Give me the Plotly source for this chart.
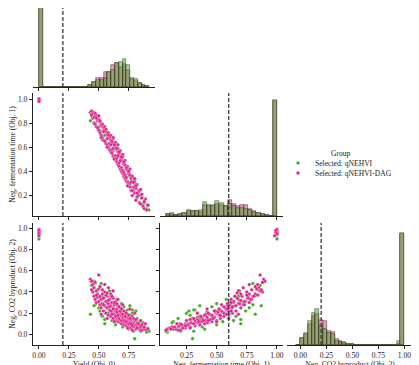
import numpy as np
import plotly.graph_objects as go

# Colours for the two selection groups
GREEN = (76, 168, 40)
PINK = (220, 40, 140)
FONT = "Liberation Serif, DejaVu Serif, serif"
INK = "#222222"

group_names = ["Selected: qNEHVI", "Selected: qNEHVI-DAG"]

# Scatter data: selected points, group qNEHVI-DAG (pink)
pink_yield = [
    0.43, 0.44, 0.45, 0.45, 0.46, 0.46, 0.47, 0.47, 0.48, 0.48,
    0.49, 0.49, 0.50, 0.50, 0.51, 0.51, 0.50, 0.52, 0.52, 0.53,
    0.53, 0.54, 0.54, 0.55, 0.55, 0.56, 0.56, 0.57, 0.57, 0.58,
    0.58, 0.59, 0.59, 0.60, 0.60, 0.60, 0.61, 0.61, 0.62, 0.62,
    0.62, 0.63, 0.63, 0.64, 0.64, 0.64, 0.65, 0.65, 0.66, 0.66,
    0.66, 0.67, 0.67, 0.68, 0.68, 0.68, 0.69, 0.69, 0.70, 0.70,
    0.70, 0.71, 0.71, 0.72, 0.72, 0.72, 0.73, 0.73, 0.74, 0.74,
    0.74, 0.75, 0.75, 0.76, 0.76, 0.77, 0.77, 0.78, 0.78, 0.79,
    0.79, 0.80, 0.80, 0.81, 0.81, 0.82, 0.82, 0.83, 0.84, 0.84,
    0.85, 0.86, 0.87, 0.88, 0.90, 0.91, 0.58, 0.62, 0.55, 0.66,
    0.70, 0.76, 0.80, 0.85, 0.89, 0.63, 0.57, 0.52, 0.74, 0.78,
    0.0, 0.0, 0.0, 0.0, 0.0, 0.0, 0.0,
    0.53, 0.56, 0.58, 0.59, 0.61, 0.61, 0.63, 0.64, 0.65, 0.65,
    0.67, 0.67, 0.68, 0.69, 0.69, 0.70, 0.71, 0.71, 0.72, 0.73,
    0.73, 0.75, 0.75, 0.76, 0.77, 0.78, 0.79, 0.81, 0.83, 0.86,
    0.60, 0.62, 0.66, 0.54, 0.48, 0.44, 0.51, 0.57, 0.88, 0.82,
]
pink_ferm = [
    0.89, 0.90, 0.84, 0.88, 0.85, 0.80, 0.88, 0.79, 0.86, 0.77,
    0.82, 0.76, 0.83, 0.74, 0.81, 0.72, 0.86, 0.78, 0.70, 0.77,
    0.68, 0.76, 0.66, 0.75, 0.65, 0.73, 0.63, 0.71, 0.62, 0.69,
    0.60, 0.68, 0.58, 0.66, 0.56, 0.70, 0.64, 0.55, 0.63, 0.53,
    0.67, 0.61, 0.52, 0.60, 0.50, 0.64, 0.58, 0.48, 0.56, 0.46,
    0.59, 0.54, 0.44, 0.52, 0.42, 0.57, 0.50, 0.40, 0.48, 0.38,
    0.52, 0.46, 0.36, 0.45, 0.34, 0.49, 0.42, 0.32, 0.41, 0.31,
    0.44, 0.38, 0.28, 0.37, 0.27, 0.34, 0.24, 0.32, 0.36, 0.24,
    0.27, 0.22, 0.32, 0.26, 0.16, 0.19, 0.29, 0.22, 0.24, 0.14,
    0.13, 0.18, 0.11, 0.09, 0.08, 0.12, 0.72, 0.68, 0.77, 0.62,
    0.54, 0.42, 0.34, 0.25, 0.17, 0.50, 0.60, 0.68, 0.28, 0.20,
    1.00, 1.00, 0.99, 1.00, 0.99, 1.00, 0.98,
    0.79, 0.75, 0.70, 0.63, 0.65, 0.58, 0.62, 0.53, 0.59, 0.51,
    0.56, 0.47, 0.49, 0.43, 0.52, 0.41, 0.48, 0.39, 0.37, 0.43,
    0.35, 0.40, 0.31, 0.30, 0.31, 0.24, 0.31, 0.28, 0.20, 0.21,
    0.62, 0.59, 0.53, 0.73, 0.84, 0.87, 0.82, 0.67, 0.15, 0.22,
]
pink_co2 = [
    0.52, 0.50, 0.47, 0.40, 0.44, 0.36, 0.49, 0.33, 0.41, 0.30,
    0.38, 0.35, 0.43, 0.31, 0.36, 0.28, 0.56, 0.33, 0.25, 0.38,
    0.29, 0.34, 0.22, 0.40, 0.27, 0.31, 0.20, 0.36, 0.25, 0.29,
    0.18, 0.33, 0.23, 0.27, 0.17, 0.38, 0.30, 0.21, 0.25, 0.15,
    0.34, 0.28, 0.19, 0.22, 0.13, 0.31, 0.24, 0.16, 0.20, 0.12,
    0.27, 0.22, 0.14, 0.18, 0.11, 0.25, 0.20, 0.10, 0.16, 0.12,
    0.23, 0.18, 0.09, 0.14, 0.11, 0.21, 0.16, 0.08, 0.13, 0.10,
    0.19, 0.15, 0.07, 0.12, 0.09, 0.14, 0.06, 0.11, 0.17, 0.08,
    0.10, 0.07, 0.13, 0.09, 0.05, 0.08, 0.11, 0.06, 0.09, 0.05,
    0.07, 0.04, 0.06, 0.05, 0.04, 0.05, 0.44, 0.41, 0.47, 0.33,
    0.28, 0.24, 0.20, 0.13, 0.10, 0.12, 0.15, 0.19, 0.06, 0.04,
    0.99, 0.97, 0.96, 0.94, 0.98, 0.95, 0.93,
    0.42, 0.37, 0.32, 0.26, 0.36, 0.19, 0.30, 0.17, 0.29, 0.21,
    0.26, 0.15, 0.22, 0.13, 0.24, 0.19, 0.22, 0.13, 0.17, 0.20,
    0.12, 0.18, 0.10, 0.15, 0.10, 0.08, 0.15, 0.14, 0.10, 0.09,
    0.22, 0.24, 0.18, 0.28, 0.37, 0.42, 0.45, 0.39, 0.07, 0.06,
]

# Scatter data: selected points, group qNEHVI (green)
green_yield = [
    0.44, 0.46, 0.47, 0.43, 0.49, 0.51, 0.52, 0.54, 0.55, 0.57,
    0.58, 0.60, 0.61, 0.62, 0.63, 0.64, 0.65, 0.66, 0.67, 0.68,
    0.69, 0.70, 0.71, 0.72, 0.73, 0.74, 0.75, 0.76, 0.77, 0.78,
    0.79, 0.80, 0.81, 0.82, 0.83, 0.84, 0.85, 0.86, 0.87, 0.88,
    0.90, 0.91, 0.92, 0.53, 0.59, 0.56, 0.50, 0.62, 0.69, 0.76,
    0.46, 0.78, 0.55, 0.0,
]
green_ferm = [
    0.86, 0.89, 0.80, 0.82, 0.84, 0.74, 0.80, 0.76, 0.70, 0.72,
    0.60, 0.68, 0.64, 0.52, 0.62, 0.50, 0.58, 0.46, 0.55, 0.42,
    0.50, 0.38, 0.46, 0.34, 0.43, 0.32, 0.40, 0.28, 0.36, 0.25,
    0.31, 0.30, 0.27, 0.18, 0.24, 0.14, 0.20, 0.18, 0.13, 0.14,
    0.09, 0.12, 0.08, 0.66, 0.69, 0.64, 0.77, 0.57, 0.40, 0.36,
    0.87, 0.31, 0.70, 1.00,
]
green_co2 = [
    0.46, 0.50, 0.28, 0.19, 0.42, 0.22, 0.48, 0.35, 0.14, 0.30,
    0.20, 0.36, 0.13, 0.24, 0.29, 0.09, 0.33, 0.17, 0.12, 0.21,
    0.29, 0.07, 0.26, 0.16, 0.11, 0.23, 0.05, 0.18, 0.14, 0.20,
    0.03, -0.04, 0.22, 0.15, 0.10, 0.12, 0.03, 0.07, 0.11, 0.05,
    0.02, 0.06, 0.03, 0.17, 0.41, 0.26, 0.25, 0.19, 0.13, 0.27,
    0.27, 0.23, 0.10, 0.90,
]

# Histogram bars (bin start, bin width, counts)
yield_bin_start, yield_bin_width = 0.0, 0.0318
yield_hist_green = [120] + [0] * 12 + [
    2.3, 6, 7.3, 7.7, 10.3, 16, 18.7, 26, 27, 31, 24.7, 10.3, 8.7, 4.7, 2.3, 1.3]
yield_hist_pink = [120] + [0] * 12 + [
    2.3, 6, 9.7, 9.7, 16.3, 16, 24.7, 26, 22, 25.3, 18.7, 8.7, 7, 4.7, 2.3, 1.3]

ferm_bin_start, ferm_bin_width = 0.08, 0.0341
ferm_hist_green = [1.7, 3.3, 1, 2.3, 3.3, 6.3, 5, 5, 5.7, 14, 10.7, 11.3, 14.7, 13.3,
                   9.7, 12.3, 9.7, 8.3, 8.3, 7.3, 5.7, 4, 3, 1.7, 0.7, 0, 116]
ferm_hist_pink = [1.7, 1.7, 0.7, 2.3, 3.3, 5, 5, 5, 4, 10.7, 9.7, 9.7, 12.3, 10.7,
                  9.7, 16.3, 12.3, 9.7, 11.3, 10.7, 7.3, 5, 3.3, 1.7, 0.7, 0, 115]

co2_bin_start, co2_bin_width = -0.04, 0.0371
co2_hist_green = [0.3, 6.7, 11.7, 23.7, 31.7, 36, 19.3, 16, 12, 11, 4.3, 2.7, 2, 1, 0.7] \
    + [0] * 11 + [3.7, 112]
co2_hist_pink = [0, 6.7, 11, 21, 29.3, 31, 25, 24.3, 13.7, 12.7, 6, 3.7, 2.7, 1, 0.7] \
    + [0] * 11 + [1, 111]

# Reference (threshold) values per objective
thresholds = [0.2, 0.6, 0.2]

# The page body keeps an 8px margin, so lay out in window pixels shifted by it.
# The figure runs a little past the window bottom so the x titles can sit
# where the reference has them (partly cut by the window edge).
OFF = 8
W, H = 419 - OFF, 372


def px_x(a, b):
    return [(a - OFF) / W, (b - OFF) / W]


def px_y(top, bottom):
    return [1 - (bottom - OFF) / H, min(1.0, 1 - (top - OFF) / H)]


def pt(x, y):
    return (x - OFF) / W, 1 - (y - OFF) / H


col_dom = [px_x(33, 155), px_x(160, 283), px_x(287, 413)]
row_dom = [px_y(0, 87), px_y(93, 216), px_y(223, 345)]
yield_range = [-0.05, 0.97]
ferm_range = [0.03, 1.05]
co2_range = [-0.10, 1.05]


def rgba(c, a):
    return "rgba(%d,%d,%d,%s)" % (c[0], c[1], c[2], a)


def centers(start, width, n):
    return start + width * (np.arange(n) + 0.5)


fig = go.Figure()

# Diagonal histograms (pink layer first, green on top)
hist_specs = [
    ("x", "y", yield_bin_start, yield_bin_width, yield_hist_pink, yield_hist_green),
    ("x3", "y3", ferm_bin_start, ferm_bin_width, ferm_hist_pink, ferm_hist_green),
    ("x6", "y6", co2_bin_start, co2_bin_width, co2_hist_pink, co2_hist_green),
]
for xa, ya, start, width, pink_counts, green_counts in hist_specs:
    for counts, col in [(pink_counts, PINK), (green_counts, GREEN)]:
        fig.add_trace(go.Bar(
            x=centers(start, width, len(counts)), y=counts, width=width,
            marker=dict(color=rgba(col, 0.5), line=dict(color="rgba(40,45,20,0.75)", width=0.6)),
            xaxis=xa, yaxis=ya, showlegend=False, hoverinfo="skip",
        ))

# Off-diagonal scatters
scatter_specs = [
    ("x2", "y2", "yield", "ferm"),
    ("x4", "y4", "yield", "co2"),
    ("x5", "y5", "ferm", "co2"),
]
groups = [
    (group_names[0], GREEN, {"yield": green_yield, "ferm": green_ferm, "co2": green_co2}),
    (group_names[1], PINK, {"yield": pink_yield, "ferm": pink_ferm, "co2": pink_co2}),
]
for xa, ya, vx, vy in scatter_specs:
    for name, col, d in groups:
        fig.add_trace(go.Scatter(
            x=d[vx], y=d[vy], mode="markers", name=name, showlegend=False,
            marker=dict(size=3.6, color=rgba(col, 1), line=dict(color="white", width=0.3)),
            xaxis=xa, yaxis=ya, hoverinfo="skip",
        ))

tick_font = dict(family=FONT, size=7.6, color=INK)
axis_base = dict(
    showline=True, linecolor=INK, linewidth=1.2, ticks="outside", ticklen=3,
    tickwidth=0.8, tickcolor=INK, showgrid=False, zeroline=False,
    tickfont=tick_font, automargin=False,
)
x_ticks = {
    "yield": dict(tickvals=[0, 0.25, 0.5, 0.75], tickformat=".2f", range=yield_range),
    "ferm": dict(tickvals=[0.25, 0.5, 0.75, 1.0], tickformat=".2f", range=ferm_range),
    "co2": dict(tickvals=[0, 0.25, 0.5, 0.75, 1.0], tickformat=".2f", range=[-0.128, 1.083]),
}
x_titles = {
    "yield": "Yield (Obj. 0)",
    "ferm": "Neg. fermentation time (Obj. 1)",
    "co2": "Neg. CO2 byproduct (Obj. 2)",
}

layout_axes = {}
# (axis id, column, row, variable, labels shown, anchor)
x_specs = [
    ("xaxis", 0, 0, "yield", False, "y"),
    ("xaxis2", 0, 1, "yield", False, "y2"),
    ("xaxis3", 1, 1, "ferm", False, "y3"),
    ("xaxis4", 0, 2, "yield", True, "y4"),
    ("xaxis5", 1, 2, "ferm", True, "y5"),
    ("xaxis6", 2, 2, "co2", True, "y6"),
]
for key, c, r, var, labels, anchor in x_specs:
    ax = dict(axis_base, domain=col_dom[c], anchor=anchor, showticklabels=labels, **x_ticks[var])
    if labels:
        ax["title"] = dict(text=x_titles[var], font=tick_font, standoff=2)
    layout_axes[key] = ax

y_specs = [
    ("yaxis", 0, "x", dict(range=[0, 87], visible=False)),
    ("yaxis2", 1, "x2", dict(range=ferm_range, tickvals=[0.2, 0.4, 0.6, 0.8, 1.0], tickformat=".1f",
                             title=dict(text=x_titles["ferm"], font=tick_font, standoff=3))),
    ("yaxis3", 1, "x3", dict(range=[0, 123], visible=False)),
    ("yaxis4", 2, "x4", dict(range=co2_range, tickvals=[0, 0.2, 0.4, 0.6, 0.8, 1.0], tickformat=".1f",
                             title=dict(text=x_titles["co2"], font=tick_font, standoff=3))),
    ("yaxis5", 2, "x5", dict(range=co2_range, tickvals=[0, 0.2, 0.4, 0.6, 0.8, 1.0], showticklabels=False)),
    ("yaxis6", 2, "x6", dict(range=[0, 122], visible=False)),
]
for key, r, anchor, extra in y_specs:
    layout_axes[key] = dict(axis_base, domain=row_dom[r], anchor=anchor, **extra)

# Dashed threshold lines, one per panel in each column
shapes = []
panel_cols = [("x", "y", 0), ("x2", "y2", 0), ("x4", "y4", 0),
              ("x3", "y3", 1), ("x5", "y5", 1), ("x6", "y6", 2)]
for xa, ya, c in panel_cols:
    shapes.append(dict(
        type="line", xref=xa, yref=ya + " domain", x0=thresholds[c], x1=thresholds[c],
        y0=0, y1=1, line=dict(color="#2a2a2a", width=1.2, dash="4px,2px"),
    ))

# Legend drawn by hand so its rows sit as close as in the reference
annotations = []
gx, gy = pt(341, 153)
annotations.append(dict(text="Group", x=gx, y=gy, xref="paper", yref="paper",
                        showarrow=False, xanchor="center", yanchor="middle", font=tick_font))
for (name, col, _), row_y in zip(groups, [163, 173]):
    mx, my = pt(298, row_y)
    shapes.append(dict(type="circle", xref="paper", yref="paper", xsizemode="pixel",
                       ysizemode="pixel", xanchor=mx, yanchor=my, x0=-1.7, x1=1.7,
                       y0=-1.7, y1=1.7, fillcolor=rgba(col, 1), line=dict(width=0)))
    tx, ty = pt(313, row_y)
    annotations.append(dict(text=name, x=tx, y=ty, xref="paper", yref="paper",
                            showarrow=False, xanchor="left", yanchor="middle", font=tick_font))

fig.update_layout(
    width=W, height=H,
    margin=dict(l=0, r=0, t=0, b=0),
    paper_bgcolor="white", plot_bgcolor="white",
    font=dict(family=FONT, size=7.6, color=INK),
    barmode="overlay", bargap=0,
    shapes=shapes, annotations=annotations,
    showlegend=False,
    **layout_axes,
)

fig.write_html("out.html")
